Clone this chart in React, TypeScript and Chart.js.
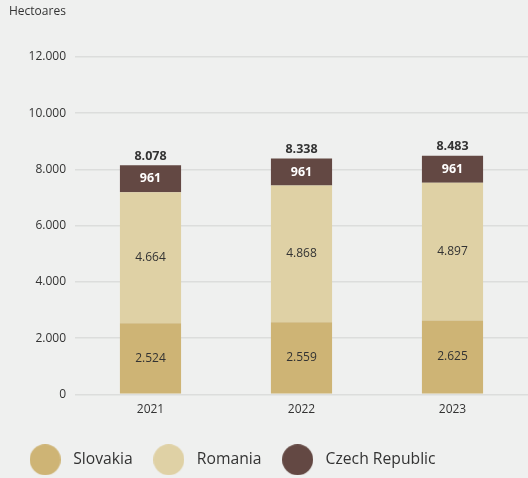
import React, { useEffect, useRef } from "react";
import { Chart, registerables } from "chart.js";

Chart.register(...registerables);

const years = ["2021", "2022", "2023"];
const slovakia = [2524, 2559, 2625];
const romania = [4664, 4868, 4897];
const czechRepublic = [961, 961, 961];
const totals = [8078, 8338, 8483];
const yMax = 12000;
const yStep = 2000;

const FONT = "'Open Sans', 'Noto Sans', sans-serif";
const TEXT = "#333333";
const BG = "#eff0ef";

const fmt = (v: number) => String(Math.round(v)).replace(/\B(?=(\d{3})+(?!\d))/g, ".");

const circleImage = (color: string) => {
  const c = document.createElement("canvas");
  c.width = 31;
  c.height = 31;
  const g = c.getContext("2d")!;
  g.fillStyle = color;
  g.beginPath();
  g.arc(15.5, 15.5, 15.5, 0, Math.PI * 2);
  g.fill();
  return c;
};

const labelStyles = [
  { color: TEXT, weight: "normal" },
  { color: TEXT, weight: "normal" },
  { color: "#ffffff", weight: "bold" },
];

const valueLabels = {
  id: "valueLabels",
  afterDatasetsDraw(chart: any) {
    const ctx = chart.ctx;
    ctx.save();
    ctx.textAlign = "center";
    chart.data.datasets.forEach((ds: any, di: number) => {
      const meta = chart.getDatasetMeta(di);
      const st = labelStyles[di];
      ctx.fillStyle = st.color;
      ctx.font = `${st.weight} ${st.weight === "bold" ? 12.5 : 12}px ${FONT}`;
      ctx.textBaseline = "middle";
      meta.data.forEach((el: any, i: number) => {
        const { x, y, base } = el.getProps(["x", "y", "base"], true);
        ctx.fillText(fmt(ds.data[i]), x, (y + base) / 2);
      });
    });
    const last = chart.getDatasetMeta(chart.data.datasets.length - 1);
    ctx.fillStyle = TEXT;
    ctx.font = `bold 12.5px ${FONT}`;
    ctx.textBaseline = "bottom";
    last.data.forEach((el: any, i: number) => {
      const { x, y } = el.getProps(["x", "y"], true);
      ctx.fillText(fmt(totals[i]), x, y - 3);
    });
    ctx.restore();
  },
};

export default function App() {
  const ref = useRef<HTMLCanvasElement | null>(null);

  useEffect(() => {
    document.body.style.margin = "0";
    document.body.style.background = BG;
    const canvas = ref.current;
    if (!canvas) return;
    const colors = ["#ceb475", "#dfd1a5", "#634843"];
    const chart = new Chart(canvas, {
      type: "bar",
      data: {
        labels: years,
        datasets: [
          { label: "Slovakia", data: slovakia, backgroundColor: colors[0] },
          { label: "Romania", data: romania, backgroundColor: colors[1] },
          { label: "Czech Republic", data: czechRepublic, backgroundColor: colors[2] },
        ],
      },
      options: {
        responsive: false,
        animation: false,
        layout: { padding: { left: 9, right: 0, top: 4, bottom: 0.5 } },
        datasets: {
          bar: { barPercentage: 0.405, categoryPercentage: 1, borderWidth: 0 },
        },
        scales: {
          x: {
            stacked: true,
            grid: { display: false, drawTicks: false },
            border: { display: false },
            ticks: { color: TEXT, font: { family: FONT, size: 12 }, padding: 8 },
            afterFit: (s: any) => {
              s.height = 41.5;
            },
          },
          y: {
            stacked: true,
            min: 0,
            max: yMax,
            grid: { color: "#dcdddc", lineWidth: 1.5, drawTicks: false },
            border: { display: false },
            ticks: {
              stepSize: yStep,
              color: TEXT,
              font: { family: FONT, size: 12 },
              padding: 9,
              callback: (v: any) => fmt(Number(v)),
            },
            afterFit: (s: any) => {
              s.width = 66;
            },
          },
        },
        plugins: {
          title: {
            display: true,
            text: "Hectoares",
            align: "start",
            color: TEXT,
            font: { family: FONT, size: 12, weight: "normal" },
            padding: { top: 0, bottom: 38.6 },
          },
          legend: {
            position: "bottom",
            align: "start",
            labels: {
              usePointStyle: true,
              pointStyleWidth: 40.3,
              padding: 16,
              color: TEXT,
              font: { family: FONT, size: 15.7 },
              generateLabels: (c: any) => {
                const items = Chart.defaults.plugins.legend.labels.generateLabels(c);
                return items.map((it: any, i: number) => ({
                  ...it,
                  pointStyle: circleImage(colors[i]),
                  lineWidth: 0,
                }));
              },
            },
          },
          tooltip: { enabled: false },
        },
      },
      plugins: [valueLabels],
    });
    return () => chart.destroy();
  }, []);

  return (
    <div style={{ width: 528, height: 478 }}>
      <canvas ref={ref} width={528} height={478} style={{ display: "block" }} />
    </div>
  );
}
